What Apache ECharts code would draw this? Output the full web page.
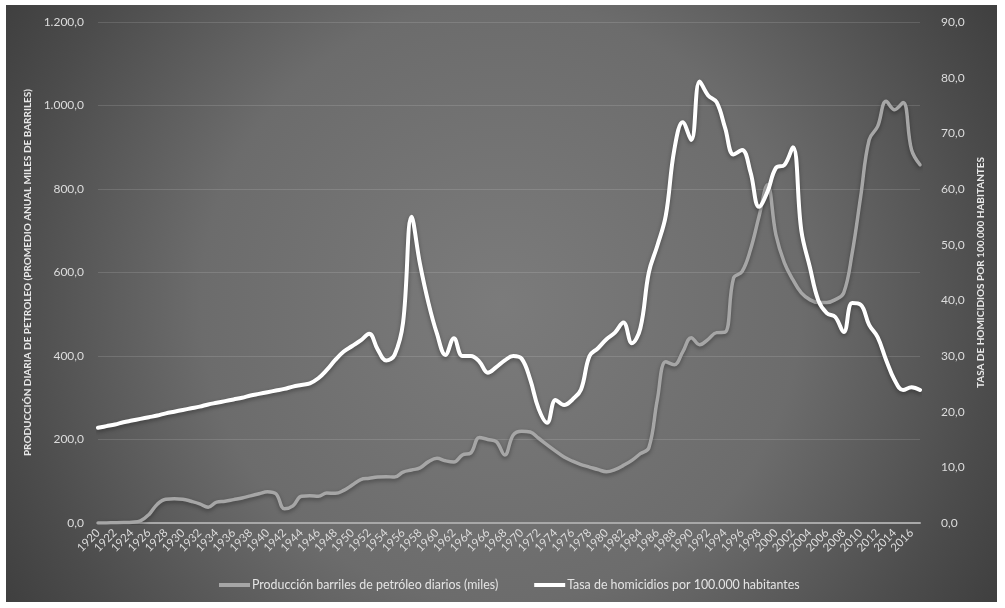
<!DOCTYPE html>
<html>
<head>
<meta charset="utf-8">
<script src="https://cdn.jsdelivr.net/npm/echarts@6/dist/echarts.min.js"></script>
<style>
html,body{margin:0;padding:0;background:#ffffff;width:1005px;height:608px;overflow:hidden;}
#chart{position:absolute;left:6px;top:5px;width:991px;height:597px;}
</style>
</head>
<body>
<div id="chart"></div>
<script>
var years = [];
for (var y = 1920; y <= 2017; y++) years.push(String(y));

var produccion = [
  0.1, 0.2, 0.5, 1, 2, 5, 20, 45, 57, 58,
  57, 52, 46, 38, 50, 52, 56, 60, 65, 70,
  75, 70, 34, 41, 64, 65, 64, 72, 71, 78,
  91, 104, 107, 110, 111, 110, 122, 127, 132, 147,
  155, 149, 146, 163, 168, 205, 200, 195, 163, 211,
  220, 218, 203, 187, 172, 158, 148, 140, 134, 128,
  123, 128, 138, 150, 166, 180, 295, 386, 379, 410,
  444, 427, 440, 456, 457, 587, 602, 655, 734, 810,
  690, 623, 583, 551, 535, 528, 528, 535, 551, 647,
  782, 918, 950, 1010, 990, 1007, 894, 858
];

var homicidios = [
  17.1, 17.4, 17.7, 18.1, 18.4, 18.7, 19.0, 19.3, 19.7, 20.0,
  20.3, 20.6, 20.9, 21.3, 21.6, 21.9, 22.2, 22.5, 22.9, 23.2,
  23.5, 23.8, 24.1, 24.5, 24.8, 25.1, 26.0, 27.5, 29.3, 30.8,
  31.8, 32.8, 34.0, 31.2, 29.2, 30.2, 36.0, 55.0, 46.5, 39.5,
  34.0, 30.2, 33.2, 30.0, 30.0, 29.0, 27.0, 28.0, 29.2, 30.0,
  29.5, 25.8, 20.5, 18.0, 22.1, 21.2, 22.2, 24.0, 30.0, 31.4,
  33.0, 34.2, 36.0, 32.3, 35.0, 45.0, 49.8, 55.2, 67.0, 72.0,
  68.8, 79.3, 76.8, 75.6, 71.0, 66.2, 67.0, 63.0, 56.8, 59.5,
  63.8, 64.3, 67.5, 52.5, 46.0, 40.0, 37.7, 37.0, 34.3, 39.5,
  39.2, 35.6, 33.4, 29.3, 25.7, 23.9, 24.4, 23.9
];

var seriesNames = [
  'Producción barriles de petróleo diarios (miles)',
  'Tasa de homicidios por 100.000 habitantes'
];
var leftAxisName = 'PRODUCCIÓN DIARIA DE PETROLEO (PROMEDIO ANUAL MILES DE BARRILES)';
var rightAxisName = 'TASA DE HOMICIDIOS POR 100.000 HABITANTES';

function fmt(v) {
  var s = Math.abs(v).toFixed(1).split('.');
  var intPart = s[0].replace(/\B(?=(\d{3})+(?!\d))/g, '.');
  return (v < 0 ? '-' : '') + intPart + ',' + s[1];
}

var FONT = 'Lato, "Open Sans", sans-serif';
var chart = echarts.init(document.getElementById('chart'), null, {renderer: 'canvas'});
chart.setOption({
  animation: false,
  backgroundColor: {
    type: 'radial', x: 495, y: 298, r: 600, global: true,
    colorStops: [
      {offset: 0, color: '#7b7b7b'},
      {offset: 0.5, color: '#6c6c6c'},
      {offset: 0.82, color: '#4c4c4c'},
      {offset: 1, color: '#3c3c3c'}
    ]
  },
  textStyle: {fontFamily: FONT},
  grid: {left: 92, top: 17, right: 77, bottom: 79, containLabel: false},
  legend: {
    top: 569, left: 208,
    itemWidth: 31, itemHeight: 4, itemGap: 36,
    icon: 'rect',
    textStyle: {color: '#e4e4e4', fontSize: 12.4, fontFamily: FONT, padding: [0, 0, 0, -3]},
    data: seriesNames
  },
  xAxis: {
    type: 'category', data: years, boundaryGap: false,
    axisLine: {show: true, lineStyle: {color: '#a8a8a8', width: 2}},
    axisTick: {show: false},
    axisLabel: {color: '#dcdcdc', fontSize: 11.5, rotate: 45, interval: 1, margin: 8, fontFamily: FONT},
    splitLine: {show: false}
  },
  yAxis: [
    {
      type: 'value', min: 0, max: 1200, interval: 200, position: 'left',
      name: leftAxisName, nameLocation: 'middle', nameRotate: 90, nameGap: 59,
      nameTextStyle: {color: '#e8e8e8', fontSize: 10, fontWeight: 'bold', fontFamily: FONT},
      axisLine: {show: false}, axisTick: {show: false},
      axisLabel: {color: '#dcdcdc', fontSize: 12, margin: 14, formatter: fmt, fontFamily: FONT},
      splitLine: {show: true, lineStyle: {color: 'rgba(255,255,255,0.13)', width: 1}}
    },
    {
      type: 'value', min: 0, max: 90, interval: 10, position: 'right',
      name: rightAxisName, nameLocation: 'middle', nameRotate: 90, nameGap: 49,
      nameTextStyle: {color: '#e8e8e8', fontSize: 10, fontWeight: 'bold', fontFamily: FONT},
      axisLine: {show: false}, axisTick: {show: false},
      axisLabel: {color: '#dcdcdc', fontSize: 12, margin: 21, formatter: fmt, fontFamily: FONT},
      splitLine: {show: false}
    }
  ],
  series: [
    {
      name: seriesNames[0], type: 'line', yAxisIndex: 0, data: produccion,
      smooth: 0.4, symbol: 'none', color: '#a6a6a6',
      lineStyle: {color: '#a6a6a6', width: 3.5, cap: 'round', join: 'round',
        shadowColor: 'rgba(0,0,0,0.35)', shadowBlur: 4, shadowOffsetY: 2},
      z: 2
    },
    {
      name: seriesNames[1], type: 'line', yAxisIndex: 1, data: homicidios,
      smooth: 0.4, symbol: 'none', color: '#ffffff',
      lineStyle: {color: '#ffffff', width: 4, cap: 'round', join: 'round',
        shadowColor: 'rgba(0,0,0,0.35)', shadowBlur: 4, shadowOffsetY: 2},
      z: 3
    }
  ]
});
</script>
</body>
</html>
